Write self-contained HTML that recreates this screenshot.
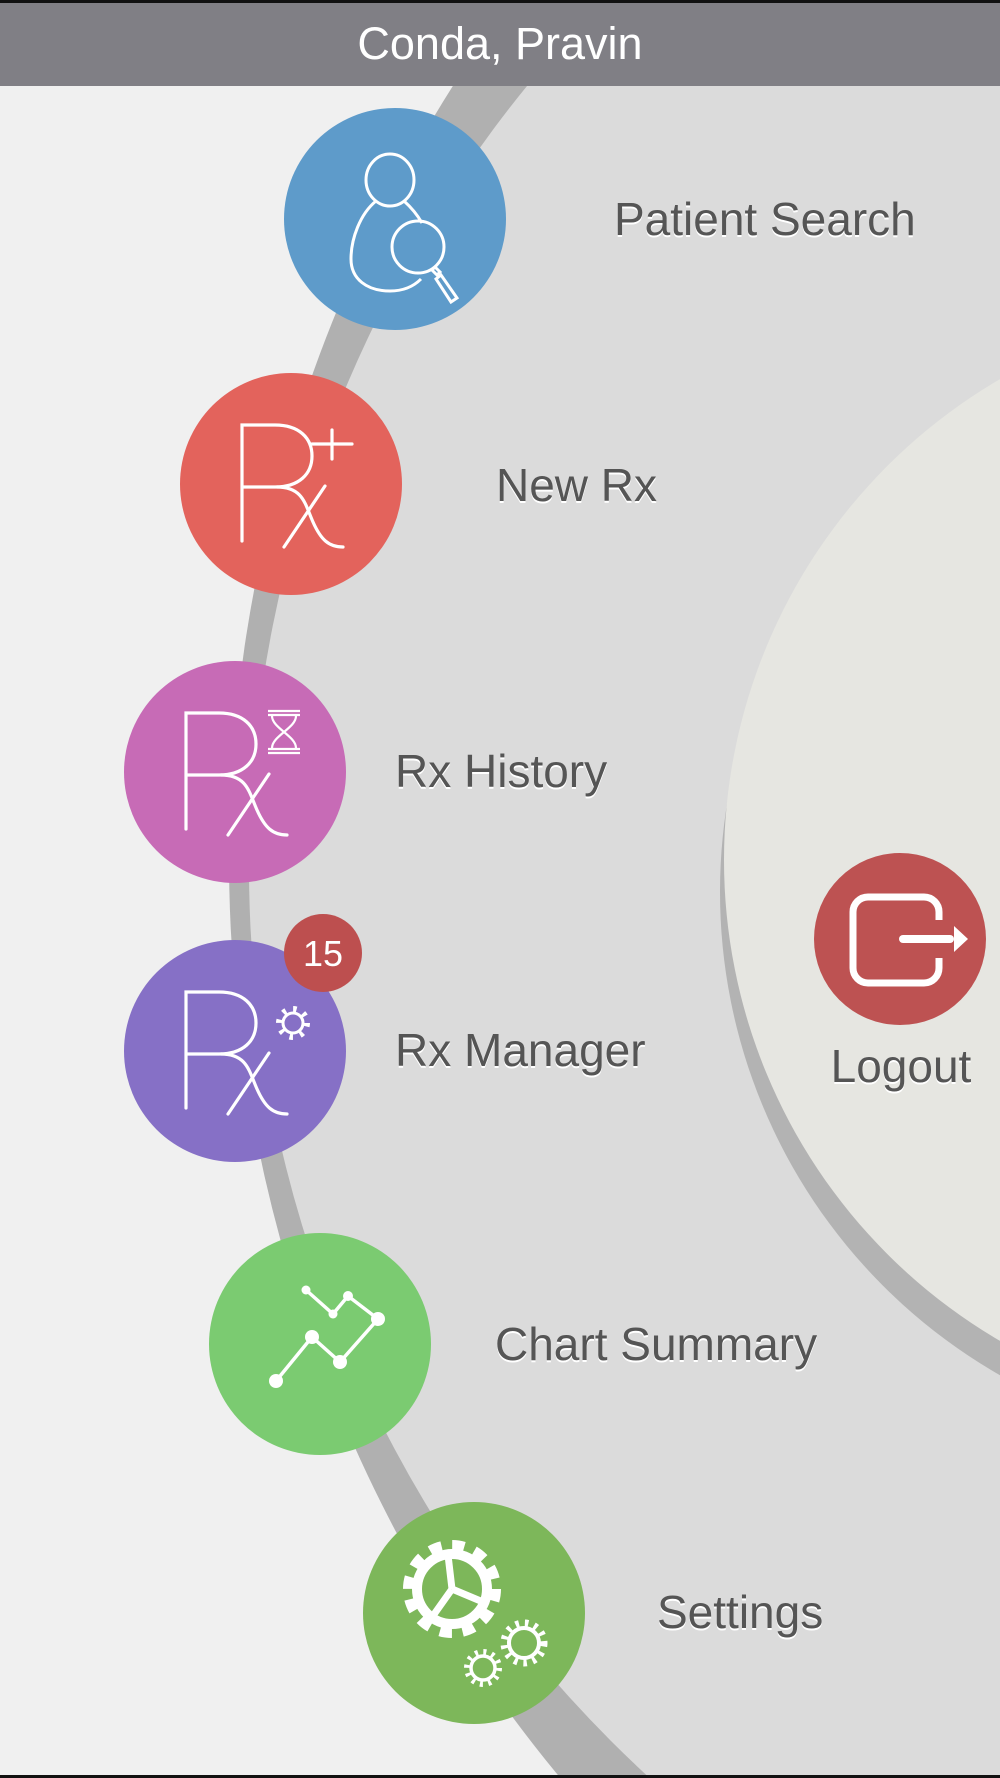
<!DOCTYPE html>
<html><head><meta charset="utf-8"><style>
html,body{margin:0;padding:0;background:#f0f0f0;width:1000px;height:1778px;overflow:hidden;}
svg{display:block;}
text{font-family:"Liberation Sans",sans-serif;}
</style></head><body>
<svg width="1000" height="1778" viewBox="0 0 1000 1778" xmlns="http://www.w3.org/2000/svg">
<defs>
<g id="rx" fill="none" stroke="#fff" stroke-width="3.2" stroke-linecap="round">
  <path d="M-49,57 V-59 H-16 C8,-59 21,-46 21,-28 C21,-10 8,3 -16,3 H-49"/>
  <path d="M-14,3 C12,3 14,20 22,38 C30,56 38,63 52,63"/>
  <path d="M34,2 L-7,63"/>
</g>
</defs>
<rect x="0" y="0" width="1000" height="1778" fill="#f0f0f0"/>
<circle cx="1672" cy="858" r="1443" fill="#b0b0b0"/>
<circle cx="1485" cy="867" r="1236" fill="#dbdbdb"/>
<circle cx="1277" cy="892" r="557" fill="#b3b3b3"/>
<circle cx="1281" cy="860" r="557" fill="#e6e6e1"/>

<rect x="0" y="0" width="1000" height="86" fill="#807f85"/>
<rect x="0" y="0" width="1000" height="3" fill="#111"/>
<text x="500" y="59" text-anchor="middle" font-size="45" fill="#fff">Conda, Pravin</text>

<g transform="translate(395,219)">
  <circle r="111" fill="#5e9bca"/>
  <g fill="none" stroke="#fff" stroke-width="3">
    <ellipse cx="-5" cy="-39" rx="24" ry="26"/>
    <path d="M-19,-18 C-35,-5 -44,20 -44,40 C-44,60 -28,72 -5,72 C8,72 18,68 26,60"/>
    <path d="M9,-18 C18,-10 23,-3 27,4"/>
    <circle cx="23" cy="28" r="26"/>
    <path d="M40,48 L45,53 L42,56 L37,51 Z"/>
    <path d="M46,56 L62,79 L56,83 L41,60 Z"/>
  </g>
</g>
<g transform="translate(291,484)">
  <circle r="111" fill="#e3635c"/>
  <use href="#rx"/>
  <path d="M41,-54 V-25 M21,-40 H61" stroke="#fff" stroke-width="3.2" stroke-linecap="round"/>
</g>
<g transform="translate(235,772)">
  <circle r="111" fill="#c76bb6"/>
  <use href="#rx"/>
  <g fill="none" stroke="#fff" stroke-width="2.2">
    <path d="M33,-61 H65 M33,-57 H65 M33,-19 H65 M33,-23 H65"/>
    <path d="M37,-56 C37,-44 61,-36 61,-24 M61,-56 C61,-44 37,-36 37,-24"/>
  </g>
</g>
<g transform="translate(235,1051)">
  <circle r="111" fill="#8670c6"/>
  <use href="#rx"/>
  <circle cx="58" cy="-28" r="14" fill="none" stroke="#fff" stroke-width="6" stroke-dasharray="3.5 7.5"/>
  <circle cx="58" cy="-28" r="10" fill="none" stroke="#fff" stroke-width="3"/>
</g>
<circle cx="323" cy="953" r="39" fill="#bd4f4f"/>
<text x="323" y="966" text-anchor="middle" font-size="36" fill="#fff">15</text>

<g transform="translate(320,1344)">
  <circle r="111" fill="#7bcb71"/>
  <polyline points="-14,-54 13,-30 28,-48 58,-25 20,18 -8,-7 -44,37" fill="none" stroke="#fff" stroke-width="3.5"/>
  <g fill="#fff">
    <circle cx="-14" cy="-54" r="4.5"/><circle cx="13" cy="-30" r="4.5"/><circle cx="28" cy="-48" r="5"/>
    <circle cx="58" cy="-25" r="7"/><circle cx="20" cy="18" r="7"/><circle cx="-8" cy="-7" r="7"/><circle cx="-44" cy="37" r="7"/>
  </g>
</g>
<g transform="translate(474,1613)">
  <circle r="111" fill="#7db75a"/>
  <g transform="translate(-22,-24)" fill="none" stroke="#fff">
    <circle r="43" stroke-width="12" stroke-dasharray="12 10.5"/>
    <circle r="35" stroke-width="10"/>
    <path d="M0,0 L-4,-34 M0,0 L31,13 M0,0 L-22,31" stroke-width="7"/>
  </g>
  <g transform="translate(50,30)" fill="none" stroke="#fff">
    <circle r="20" stroke-width="7" stroke-dasharray="3.5 6"/>
    <circle r="15" stroke-width="4"/>
  </g>
  <g transform="translate(9,55)" fill="none" stroke="#fff">
    <circle r="16" stroke-width="6" stroke-dasharray="3 5.4"/>
    <circle r="12" stroke-width="3.5"/>
  </g>
</g>

<circle cx="900" cy="939" r="86" fill="#bd5252"/>
<path d="M939,920 V912 A15,15 0 0 0 924,897 H868 A15,15 0 0 0 853,912 V968 A15,15 0 0 0 868,983 H924 A15,15 0 0 0 939,968 V958" fill="none" stroke="#fff" stroke-width="7"/>
<path d="M903,939 H950" stroke="#fff" stroke-width="8" stroke-linecap="round"/>
<path d="M954,926 L968,939 L954,952 Z" fill="#fff"/>

<g font-size="46">
  <g fill="#fff" transform="translate(0,2)">
    <text x="614" y="235">Patient Search</text>
    <text x="496" y="501">New Rx</text>
    <text x="395" y="787">Rx History</text>
    <text x="395" y="1066">Rx Manager</text>
    <text x="495" y="1360">Chart Summary</text>
    <text x="657" y="1628">Settings</text>
    <text x="901" y="1082" text-anchor="middle">Logout</text>
  </g>
  <g fill="#555">
    <text x="614" y="235">Patient Search</text>
    <text x="496" y="501">New Rx</text>
    <text x="395" y="787">Rx History</text>
    <text x="395" y="1066">Rx Manager</text>
    <text x="495" y="1360">Chart Summary</text>
    <text x="657" y="1628">Settings</text>
    <text x="901" y="1082" text-anchor="middle">Logout</text>
  </g>
</g>
<rect x="0" y="1775" width="1000" height="3" fill="#111"/>
</svg>
</body></html>
